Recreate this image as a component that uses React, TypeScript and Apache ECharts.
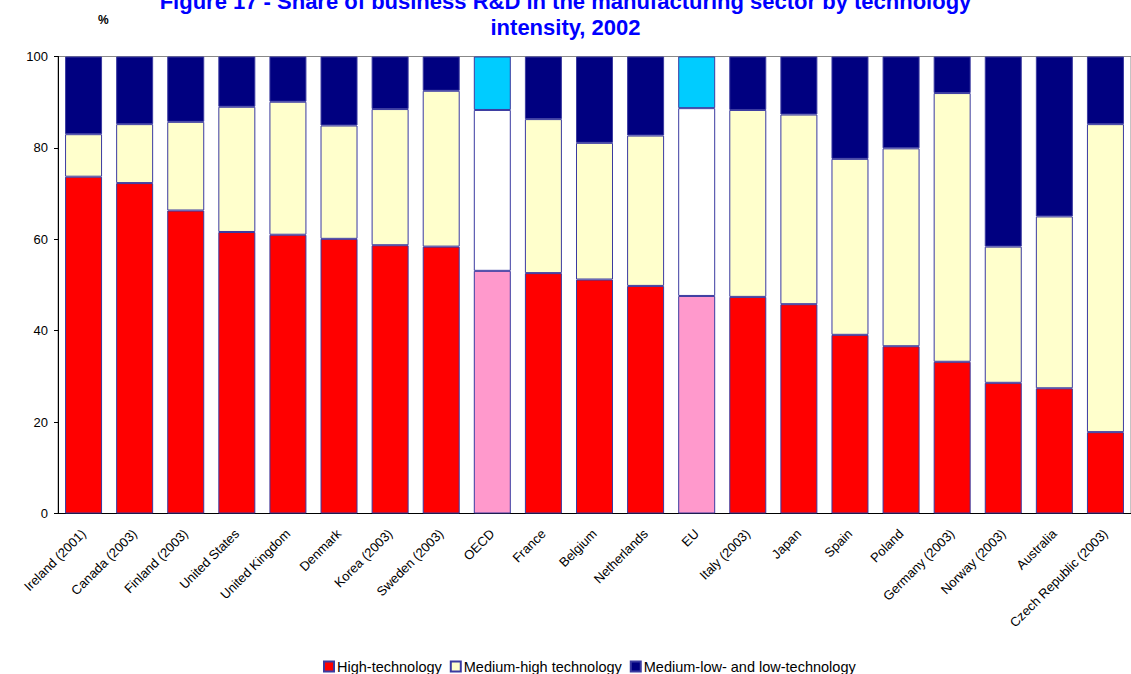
import React, { useEffect, useRef } from "react";
import * as echarts from "echarts";

// Share of business R&D in manufacturing, by technology intensity (%)
const categories = [
  "Ireland (2001)", "Canada (2003)", "Finland (2003)", "United States", "United Kingdom",
  "Denmark", "Korea (2003)", "Sweden (2003)", "OECD", "France", "Belgium", "Netherlands",
  "EU", "Italy (2003)", "Japan", "Spain", "Poland", "Germany (2003)", "Norway (2003)",
  "Australia", "Czech Republic (2003)",
];

const highTech = [
  73.7, 72.3, 66.3, 61.6, 61.0, 60.1, 58.7, 58.4, 53.1, 52.6, 51.2,
  49.8, 47.6, 47.4, 45.8, 39.1, 36.6, 33.2, 28.6, 27.4, 17.8,
];
const mediumHighTech = [
  9.3, 12.9, 19.4, 27.4, 29.1, 24.8, 29.8, 34.1, 35.2, 33.7, 29.9,
  32.9, 41.1, 40.9, 41.5, 38.5, 43.3, 58.8, 29.8, 37.6, 67.4,
];
const mediumLowTech = [
  17.0, 14.8, 14.3, 11.0, 9.9, 15.1, 11.5, 7.5, 11.7, 13.7, 18.9,
  17.3, 11.3, 11.7, 12.7, 22.4, 20.1, 8.0, 41.6, 35.0, 14.8,
];

// Country groupings shown in their own shades
const aggregates = ["OECD", "EU"];

const seriesNames = [
  "High-technology",
  "Medium-high technology",
  "Medium-low- and low-technology",
];
const countryColors = ["#FF0000", "#FFFFCC", "#000080"];
const aggregateColors = ["#FF99CC", "#FFFFFF", "#00CCFF"];

const FONT = 'Arial, "Liberation Sans", sans-serif';
const BORDER = "#3a3aa0";

export default function App() {
  const ref = useRef<HTMLDivElement>(null);

  useEffect(() => {
    if (!ref.current) return;
    const chart = echarts.init(ref.current, undefined, { renderer: "svg" });

    const stacks = [highTech, mediumHighTech, mediumLowTech];
    const series = stacks.map((values, s) => ({
      name: seriesNames[s],
      type: "bar",
      stack: "total",
      barWidth: 37,
      itemStyle: { color: countryColors[s], borderColor: BORDER, borderWidth: 1 },
      data: values.map((v, i) =>
        aggregates.includes(categories[i])
          ? { value: v, itemStyle: { color: aggregateColors[s] } }
          : v
      ),
    }));

    chart.setOption({
      animation: false,
      backgroundColor: "#FFFFFF",
      title: {
        text:
          "Figure 17 - Share of business R&D in the manufacturing sector by technology\nintensity, 2002",
        left: "center",
        top: -12,
        padding: 0,
        textStyle: {
          color: "#0000FF",
          fontWeight: "bold",
          fontSize: 22,
          lineHeight: 26,
          fontFamily: FONT,
        },
      },
      graphic: [
        {
          type: "text",
          left: 98,
          top: 14,
          style: { text: "%", fontSize: 12, fontWeight: "bold", fill: "#000", fontFamily: FONT },
        },
      ],
      legend: {
        data: seriesNames,
        left: 323,
        top: 659,
        padding: 0,
        icon: "rect",
        itemWidth: 10,
        itemHeight: 10,
        itemGap: 8,
        textStyle: { fontSize: 14.5, color: "#000", fontFamily: FONT, padding: [0, 0, 0, -2] },
      },
      grid: {
        left: 58,
        top: 56.5,
        bottom: 160.5,
        right: -15,
        show: true,
        borderColor: "#888888",
        borderWidth: 1,
        backgroundColor: "transparent",
      },
      xAxis: {
        type: "category",
        data: categories,
        axisLine: { lineStyle: { color: "#000", width: 1 } },
        axisTick: { show: false },
        axisLabel: {
          interval: 0,
          rotate: 45,
          margin: 18,
          fontSize: 13,
          color: "#000",
          fontFamily: FONT,
        },
      },
      yAxis: {
        type: "value",
        min: 0,
        max: 100,
        interval: 20,
        axisLine: { show: true, lineStyle: { color: "#000", width: 1 } },
        axisTick: { show: true, length: 4, lineStyle: { color: "#000" } },
        splitLine: { show: false },
        axisLabel: { fontSize: 13, color: "#000", margin: 10, fontFamily: FONT },
      },
      series,
    });

    return () => chart.dispose();
  }, []);

  return (
    <div
      ref={ref}
      style={{ position: "fixed", left: 0, top: 0, width: 1131, height: 674 }}
    />
  );
}
